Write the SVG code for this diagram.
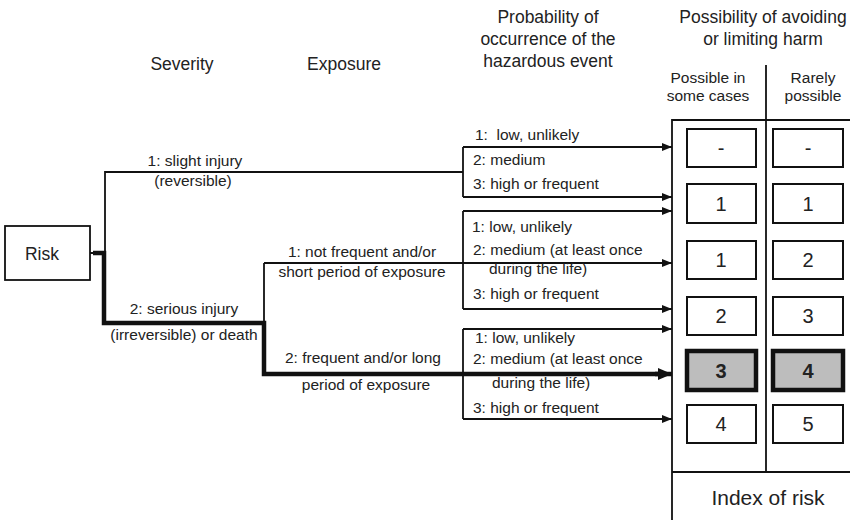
<svg xmlns="http://www.w3.org/2000/svg" width="850" height="520" viewBox="0 0 850 520">
<defs>
<marker id="ah" markerWidth="10" markerHeight="8" refX="10" refY="4" orient="auto" markerUnits="userSpaceOnUse">
<path d="M0,0 L10,4 L0,8 Z" fill="#111"/>
</marker>
<marker id="ahb" markerWidth="14" markerHeight="12" refX="14" refY="6" orient="auto" markerUnits="userSpaceOnUse">
<path d="M0,0 L14,6 L0,12 Z" fill="#111"/>
</marker>
</defs>
<style>
text{font-family:"Liberation Sans",Arial,sans-serif;fill:#222}
.h{font-size:17.5px;text-anchor:middle}
.l{font-size:15.5px}
.c{text-anchor:middle}
.n{font-size:20px;text-anchor:middle}
.thin{stroke:#111;stroke-width:1.8;fill:none}
.thick{stroke:#111;stroke-width:4.5;fill:none}
.box{fill:#fff;stroke:#111;stroke-width:2}
.hi{fill:#bdbdbd;stroke:#111;stroke-width:4.5}
</style>
<rect width="850" height="520" fill="#fff"/>

<g id="headers">
<text class="h" x="182" y="70">Severity</text>
<text class="h" x="344" y="70">Exposure</text>
<text class="h" x="548" y="23">Probability of</text>
<text class="h" x="548" y="45">occurrence of the</text>
<text class="h" x="548" y="67">hazardous event</text>
<text class="h" x="763" y="23">Possibility of avoiding</text>
<text class="h" x="763" y="45">or limiting harm</text>
<text class="l c" x="708" y="83">Possible in</text>
<text class="l c" x="708" y="101">some cases</text>
<text class="l c" x="813" y="83">Rarely</text>
<text class="l c" x="813" y="101">possible</text>
</g>

<g id="risk">
<rect x="5" y="226" width="85" height="54" fill="#fff" stroke="#111" stroke-width="1.8"/>
<text x="42" y="260" font-size="17.5" text-anchor="middle">Risk</text>
</g>

<g id="connectors">
<path class="thin" d="M90,253 H105 V172 H463"/>
<path class="thin" d="M463,147 V197"/>
<line class="thin" x1="463" y1="147" x2="672" y2="147" marker-end="url(#ah)"/>
<line class="thin" x1="463" y1="197" x2="672" y2="197" marker-end="url(#ah)"/>
<path class="thin" d="M463,211 V309"/>
<line class="thin" x1="463" y1="211" x2="672" y2="211" marker-end="url(#ah)"/>
<path class="thin" d="M264,323 V263"/>
<line class="thin" x1="264" y1="263" x2="672" y2="263" marker-end="url(#ah)"/>
<line class="thin" x1="463" y1="309" x2="672" y2="309" marker-end="url(#ah)"/>
<path class="thin" d="M463,329 V419"/>
<line class="thin" x1="463" y1="329" x2="672" y2="329" marker-end="url(#ah)"/>
<line class="thin" x1="463" y1="419" x2="672" y2="419" marker-end="url(#ah)"/>
<path class="thick" d="M93,253 H104 V323 H264 V374 H660"/>
<line stroke="#111" stroke-width="4.5" x1="655" y1="374" x2="672" y2="374" marker-end="url(#ahb)"/>
</g>

<g id="severity-labels">
<text class="l c" x="195" y="166">1: slight injury</text>
<text class="l c" x="193" y="186">(reversible)</text>
<text class="l c" x="184" y="314">2: serious injury</text>
<text class="l c" x="184" y="340">(irreversible) or death</text>
</g>

<g id="exposure-labels">
<text class="l c" x="362" y="257">1: not frequent and/or</text>
<text class="l c" x="362" y="277">short period of exposure</text>
<text class="l c" x="363" y="363">2: frequent and/or long</text>
<text class="l c" x="366" y="390">period of exposure</text>
</g>

<g id="probability-labels">
<text class="l" x="475" y="140" xml:space="preserve">1:  low, unlikely</text>
<text class="l" x="473" y="165">2: medium</text>
<text class="l" x="473" y="189">3: high or frequent</text>
<text class="l" x="472" y="232">1: low, unlikely</text>
<text class="l" x="473" y="255">2: medium (at least once</text>
<text class="l" x="489" y="274">during the life)</text>
<text class="l" x="473" y="299">3: high or frequent</text>
<text class="l" x="475" y="343">1: low, unlikely</text>
<text class="l" x="473" y="364">2: medium (at least once</text>
<text class="l" x="492" y="388">during the life)</text>
<text class="l" x="473" y="413">3: high or frequent</text>
</g>

<g id="index-frame">
<path class="thin" d="M672,520 V120 H852"/>
<line class="thin" x1="766" y1="65" x2="766" y2="472"/>
<line class="thin" x1="672" y1="472" x2="852" y2="472"/>
<text x="768" y="505" font-size="21" text-anchor="middle">Index of risk</text>
</g>

<g id="row1">
<rect class="box" x="687" y="129" width="69" height="38"/>
<rect class="box" x="773" y="129" width="70" height="38"/>
<text class="n" x="721" y="155">-</text>
<text class="n" x="808" y="155">-</text>
</g>
<g id="row2">
<rect class="box" x="687" y="184" width="69" height="39"/>
<rect class="box" x="773" y="184" width="70" height="39"/>
<text class="n" x="721" y="211">1</text>
<text class="n" x="808" y="211">1</text>
</g>
<g id="row3">
<rect class="box" x="687" y="241" width="69" height="38"/>
<rect class="box" x="773" y="241" width="70" height="38"/>
<text class="n" x="721" y="267">1</text>
<text class="n" x="808" y="267">2</text>
</g>
<g id="row4">
<rect class="box" x="687" y="297" width="69" height="38"/>
<rect class="box" x="773" y="297" width="70" height="38"/>
<text class="n" x="721" y="323">2</text>
<text class="n" x="808" y="323">3</text>
</g>
<g id="row5">
<rect class="hi" x="687" y="351" width="69" height="39"/>
<rect class="hi" x="773" y="351" width="70" height="39"/>
<text class="n" x="721" y="378" font-weight="bold">3</text>
<text class="n" x="808" y="378" font-weight="bold">4</text>
</g>
<g id="row6">
<rect class="box" x="687" y="405" width="69" height="38"/>
<rect class="box" x="773" y="405" width="70" height="38"/>
<text class="n" x="721" y="431">4</text>
<text class="n" x="808" y="431">5</text>
</g>
</svg>
